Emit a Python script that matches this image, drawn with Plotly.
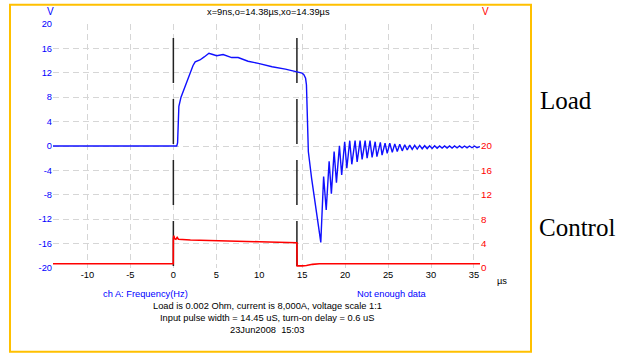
import plotly.graph_objects as go

# ---------------- data ----------------
load_t = [-14, 0.40, 0.50, 0.55, 0.65, 0.9, 1.3, 1.6, 1.95, 2.3, 2.55, 3.1, 3.6, 4.15, 4.6, 5.05,
          5.8, 6.8, 7.55, 8.7, 9.9, 11.5, 13.05, 14.4, 15.0, 15.2, 15.4, 15.5, 15.56, 15.6, 15.72,
          16.1, 16.6, 16.82, 17.17,
          17.5, 17.8, 18.14, 18.4, 18.72, 18.99, 19.34, 19.6, 19.95, 20.2, 20.54, 20.78, 21.16, 21.4,
          21.74, 21.98, 22.33, 22.56, 22.9, 23.14, 23.5, 23.7, 24.1, 24.3, 24.65, 24.9, 25.2,
          25.49, 25.78, 26.07, 26.36, 26.65, 26.94, 27.23, 27.52, 27.81, 28.1, 28.39, 28.68, 28.97,
          29.26, 29.55, 29.84, 30.13, 30.42, 30.71, 31.0, 31.29, 31.58, 31.87, 32.16, 32.45, 32.74,
          33.03, 33.32, 33.61, 33.9, 34.19, 34.48, 34.77, 35.06, 35.35, 35.7]
load_v = [0, 0, 0.5, 4, 6.5, 8, 9.5, 10.4, 11.9, 13.2, 13.8, 14.1, 14.6, 15.2, 15.0, 14.8,
          15.0, 14.5, 14.5, 13.9, 13.55, 13.0, 12.6, 12.2, 11.95, 11.7, 11.1, 10.0, 7.0, 3.4, -0.9,
          -5.3, -10.2, -11.6, -15.8,
          -5.0, -10.5, -2.5, -7.8, -0.9, -6.0, 0.05, -4.75, 0.7, -3.65, 0.87, -3.0, 0.87, -2.6,
          0.87, -2.2, 0.87, -2.0, 0.87, -1.85, 0.7, -1.75, 0.6, -1.5, 0.45, -1.2, 0.45,
          -1.05, 0.35, -0.9, 0.3, -0.8, 0.2, -0.65, 0.15, -0.55, 0.1, -0.5, 0.1, -0.45,
          0.05, -0.42, 0.05, -0.4, 0.05, -0.38, 0.02, -0.35, 0.02, -0.35, 0.0, -0.33, 0.0,
          -0.32, 0.0, -0.3, 0.0, -0.3, 0.0, -0.28, 0.0, -0.28, -0.1]

ctrl_t = [-14, 0.0, 0.01, 0.06, 0.15, 0.3, 0.45, 0.6, 2.0, 5.0, 10.0, 14.38, 14.42, 15.0, 15.5, 16.2, 17.0, 35.7]
ctrl_v = [0.7, 0.7, 4.8, 5.3, 4.8, 4.7, 5.0, 4.7, 4.6, 4.45, 4.3, 4.15, 0.35, 0.35, 0.4, 0.6, 0.7, 0.7]

cursor_times = [0.009, 14.39]

x_ticks = [-10, -5, 0, 5, 10, 15, 20, 25, 30, 35]
y_left_ticks = [-20, -16, -12, -8, -4, 0, 4, 8, 12, 16, 20]
y_right_ticks = [0, 4, 8, 12, 16, 20]

title_text = "x=9ns,o=14.38\u00b5s,xo=14.39\u00b5s"
info_lines = ["Load is 0.002 Ohm, current is 8,000A, voltage scale 1:1",
              "Input pulse width = 14.45 uS, turn-on delay = 0.6 uS",
              "23Jun2008  15:03"]

# ---------------- layout geometry (pixels) ----------------
W, H = 624, 354
L, R, T, B = 53, 480, 24, 268

def px(x):
    return (x - L) / (R - L)

def py(y):
    return (B - y) / (B - T)

FONT = "Liberation Sans, Arial, sans-serif"
FS = 9.3
BLUE = "#0000ff"
RED = "#ff0000"

fig = go.Figure()
fig.add_trace(go.Scatter(x=ctrl_t, y=ctrl_v, yaxis="y2", mode="lines",
                         line=dict(color=RED, width=1.6), showlegend=False, hoverinfo="skip"))
fig.add_trace(go.Scatter(x=load_t, y=load_v, mode="lines",
                         line=dict(color="#1010ff", width=1.4), showlegend=False, hoverinfo="skip"))

shapes = []
for t in cursor_times:
    shapes.append(dict(type="line", xref="x", yref="y", x0=t, x1=t, y0=17.7, y1=-20,
                       line=dict(color="#222222", width=1.5, dash="45px,16px"), layer="between"))
shapes.append(dict(type="rect", xref="paper", yref="paper",
                   x0=px(10), x1=px(531), y0=py(351.7), y1=py(4.7),
                   line=dict(color="#ffc000", width=2), fillcolor="rgba(0,0,0,0)"))

annotations = []
def ann(text, x, y, color="black", size=FS, family=FONT, xanchor="center"):
    annotations.append(dict(text=text, x=px(x), y=py(y), xref="paper", yref="paper",
                            showarrow=False, xanchor=xanchor, yanchor="middle",
                            font=dict(color=color, size=size, family=family)))

ann(title_text, 268, 12)
ann("V", 50, 12, color=BLUE, size=10)
ann("V", 485, 12, color=RED, size=10)
ann("\u00b5s", 502, 281)
ann("ch A: Frequency(Hz)", 145, 293.5, color=BLUE)
ann("Not enough data", 392, 293.5, color=BLUE)
for i, line in enumerate(info_lines):
    ann(line, 267, 305.5 + 12 * i)
ann("Load", 538, 101, size=25, family="Liberation Serif, Times New Roman, serif", xanchor="left")
ann("Control", 537, 227, size=25, family="Liberation Serif, Times New Roman, serif", xanchor="left")

grid = dict(showgrid=True, gridcolor="#d6d6d6", gridwidth=1, griddash="6px,4px",
            zeroline=False, showline=False, ticks="")

fig.update_layout(
    width=W, height=H,
    margin=dict(l=L, r=W - R, t=T, b=H - B, pad=0),
    paper_bgcolor="white", plot_bgcolor="white",
    font=dict(family=FONT, size=FS),
    xaxis=dict(range=[-14, 35.7], tickvals=x_ticks, ticktext=[str(v) for v in x_ticks],
               tickfont=dict(color="black", size=FS, family=FONT), **grid),
    yaxis=dict(range=[-20, 20], tickvals=y_left_ticks, ticktext=[str(v) for v in y_left_ticks],
               tickfont=dict(color=BLUE, size=FS, family=FONT), **grid),
    yaxis2=dict(range=[0, 40], overlaying="y", side="right", tickvals=y_right_ticks,
                ticktext=[str(v) for v in y_right_ticks],
                tickfont=dict(color=RED, size=FS + 0.5, family=FONT),
                showgrid=False, zeroline=False, showline=False, ticks=""),
    shapes=shapes, annotations=annotations, showlegend=False,
)

fig.write_html("out.html")
